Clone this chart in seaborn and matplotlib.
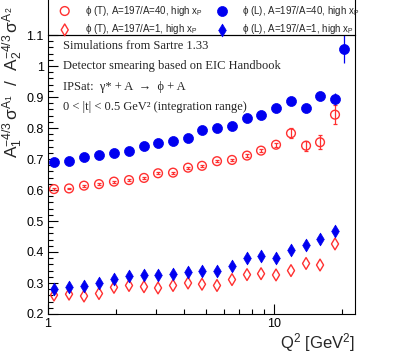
import numpy as np
import pandas as pd
import seaborn as sns
import matplotlib
matplotlib.use("Agg")
from matplotlib import pyplot as plt
from matplotlib.patches import Rectangle
from matplotlib.ticker import FixedLocator, MultipleLocator, NullFormatter

# Q^2 bin centres [GeV^2]
q2 = [1.063, 1.239, 1.443, 1.681, 1.958, 2.282, 2.658, 3.067, 3.573, 4.163,
      4.799, 5.591, 6.514, 7.590, 8.757, 10.20, 11.88, 13.85, 15.97, 18.60]
q2_last = 20.4

# phi (T), A=197/A=40
t_40 = [0.603, 0.605, 0.614, 0.619, 0.627, 0.632, 0.639, 0.654, 0.656, 0.672,
        0.678, 0.693, 0.697, 0.711, 0.727, 0.746, 0.783, 0.743, 0.754, 0.843]
t_40_err = [0.003, 0.003, 0.003, 0.003, 0.003, 0.003, 0.003, 0.003, 0.003, 0.003,
            0.004, 0.004, 0.004, 0.005, 0.005, 0.006, 0.016, 0.016, 0.023, 0.03]

# phi (L), A=197/A=40  (one extra bin at the end)
l_40 = [0.691, 0.694, 0.707, 0.714, 0.720, 0.727, 0.743, 0.752, 0.757, 0.768,
        0.795, 0.800, 0.808, 0.832, 0.841, 0.863, 0.887, 0.866, 0.903, 0.893, 1.056]
l_40_err = [0.003, 0.003, 0.003, 0.003, 0.003, 0.003, 0.003, 0.003, 0.003, 0.003,
            0.004, 0.004, 0.004, 0.005, 0.005, 0.006, 0.007, 0.008, 0.011, 0.02, 0.047]

# phi (T), A=197/A=1
t_1 = [0.261, 0.264, 0.258, 0.266, 0.286, 0.292, 0.288, 0.284, 0.292, 0.300,
       0.296, 0.292, 0.311, 0.327, 0.330, 0.326, 0.340, 0.363, 0.358, 0.426]

# phi (L), A=197/A=1
l_1 = [0.282, 0.287, 0.290, 0.299, 0.314, 0.324, 0.326, 0.325, 0.329, 0.334,
       0.340, 0.338, 0.355, 0.381, 0.386, 0.381, 0.406, 0.422, 0.442, 0.468]
l_1_err = [0.012, 0.004, 0.004, 0.004, 0.004, 0.004, 0.004, 0.004, 0.004, 0.004,
           0.004, 0.004, 0.005, 0.005, 0.005, 0.006, 0.006, 0.007, 0.008, 0.01]

labels = [r"$\phi$ (T), A=197/A=40, high x$_\mathregular{P}$",
          r"$\phi$ (T), A=197/A=1, high x$_\mathregular{P}$",
          r"$\phi$ (L), A=197/A=40, high x$_\mathregular{P}$",
          r"$\phi$ (L), A=197/A=1, high x$_\mathregular{P}$"]

notes = ["Simulations from Sartre 1.33",
         "Detector smearing based on EIC Handbook",
         "IPSat:  γ* + A  →  ϕ + A",
         "0 < |t| < 0.5 GeV² (integration range)"]

RED = "#ff3030"
BLUE = "#0000f0"

sns.set_theme(style="ticks")
plt.rcParams["font.family"] = ["Liberation Sans", "DejaVu Sans"]
plt.rcParams["mathtext.fontset"] = "custom"
plt.rcParams["mathtext.rm"] = "Liberation Sans"
plt.rcParams["mathtext.it"] = "Liberation Sans"
plt.rcParams["mathtext.default"] = "regular"

W, H = 395, 357
fig = plt.figure(figsize=(3.95, 3.57), dpi=100)
ax = fig.add_axes([48 / W, 43 / H, 307 / W, 279 / H])

q2_l40 = q2 + [q2_last]

sns.scatterplot(x=q2, y=t_40, ax=ax, marker="o", s=40, facecolors="none",
                edgecolors=RED, linewidths=1.0, label=labels[0], zorder=3)
sns.scatterplot(x=q2, y=t_1, ax=ax, marker="d", s=36, facecolors="none",
                edgecolors=RED, linewidths=1.0, label=labels[1], zorder=3)
sns.scatterplot(x=q2_l40, y=l_40, ax=ax, marker="o", s=52, color=BLUE,
                edgecolor=BLUE, linewidth=0.5, label=labels[2], zorder=3)
sns.scatterplot(x=q2, y=l_1, ax=ax, marker="d", s=42, color=BLUE,
                edgecolor=BLUE, linewidth=0.5, label=labels[3], zorder=3)

ax.errorbar(q2, t_40, yerr=t_40_err, fmt="none", ecolor=RED, elinewidth=0.9,
            capsize=1.5, capthick=0.9, zorder=2)
ax.errorbar(q2_l40, l_40, yerr=l_40_err, fmt="none", ecolor=BLUE, elinewidth=0.9,
            capsize=0, zorder=2)
ax.errorbar(q2, l_1, yerr=l_1_err, fmt="none", ecolor=BLUE, elinewidth=0.9,
            capsize=0, zorder=2)

ax.set_xscale("log")
ax.set_xlim(1, 22.8)
ax.set_ylim(0.2, 1.1)
ax.xaxis.set_major_locator(FixedLocator([1, 10]))
ax.xaxis.set_minor_locator(FixedLocator([2, 3, 4, 5, 6, 7, 8, 9, 20]))
ax.xaxis.set_minor_formatter(NullFormatter())
ax.set_xticklabels(["1", "10"])
yt = [0.2, 0.3, 0.4, 0.5, 0.6, 0.7, 0.8, 0.9, 1.0, 1.1]
ax.set_yticks(yt)
ax.set_yticklabels(["0.2", "0.3", "0.4", "0.5", "0.6", "0.7", "0.8", "0.9", "1", "1.1"])
ax.yaxis.set_minor_locator(MultipleLocator(0.02))

ax.tick_params(which="both", direction="in", top=False, right=False,
               labelsize=9, width=0.8, colors="black", pad=3)
ax.tick_params(which="major", length=7)
ax.tick_params(which="minor", length=3.5)
for s in ax.spines.values():
    s.set_linewidth(0.8)
    s.set_color("black")

ax.set_xlabel("")
ax.set_ylabel("")
fig.text(355 / W, 1 - 343 / H, r"Q$^2$ [GeV$^2$]", ha="right", va="center",
         fontsize=12)
fig.text(13 / W, 1 - 7 / H,
         r"A$_1^{-4/3}$$\,\sigma^{A_1}$  /  A$_2^{-4/3}$$\,\sigma^{A_2}$",
         rotation=90, ha="center", va="top", fontsize=12.5)

for i, txt in enumerate(notes):
    ax.text(63 / W, 1 - (46 + 20.3 * i) / H, txt, transform=fig.transFigure,
            ha="left", va="center", fontsize=9,
            family=["Liberation Serif", "DejaVu Serif"])

# legend above the axes, frame drawn separately (text runs up to the border)
h, l = ax.get_legend_handles_labels()
leg = fig.legend(h, l, ncol=2, loc="center left",
                 bbox_to_anchor=(55 / W, 1 - 20 / H), fontsize=7,
                 frameon=False, borderaxespad=0, borderpad=0,
                 handlelength=2.0, handletextpad=1.06, columnspacing=0.96,
                 labelspacing=0.5)
ax.get_legend().remove() if ax.get_legend() else None
fig.add_artist(Rectangle((48 / W, 1 - 35 / H), 307 / W, 45 / H,
                         transform=fig.transFigure, fill=False,
                         edgecolor="black", linewidth=0.8))

fig.savefig("out.png", dpi=100)
